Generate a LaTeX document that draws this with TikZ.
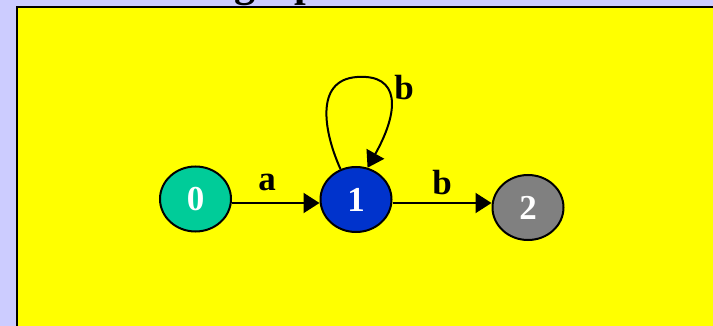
\documentclass[tikz,border=0pt]{standalone}
\usepackage{fontspec}
\setmainfont{Liberation Serif}
\usetikzlibrary{arrows.meta,shapes.geometric}
\definecolor{lav}{RGB}{204,204,255}
\definecolor{yel}{RGB}{255,255,0}
\definecolor{teal0}{RGB}{0,204,153}
\definecolor{blue1}{RGB}{0,51,204}
\definecolor{gray2}{RGB}{128,128,128}
\tikzset{
  state/.style={ellipse, draw=black, line width=2pt, minimum width=71pt, minimum height=65pt,
    inner sep=0pt, text=white, font=\fontsize{35}{35}\selectfont\bfseries},
  edge/.style={draw=black, line width=2pt, -{Triangle[length=16pt,width=20pt]}},
  elabel/.style={font=\fontsize{35}{35}\selectfont\bfseries, text=black, inner sep=0pt},
}
\begin{document}
\begin{tikzpicture}[x=1pt,y=-1pt]
\useasboundingbox (0,0) rectangle (713,326);
\fill[lav] (0,0) rectangle (713,326);
\node[anchor=base west, inner sep=0pt, font=\fontsize{42}{42}\selectfont\bfseries] (title) at (234,-3) {graph};
\draw[fill=yel, line width=2pt] (17,7) rectangle (740,360);
\node[state, fill=teal0] (n0) at (195.5,199) {0};
\node[state, fill=blue1] (n1) at (356,199.5) {1};
\node[state, fill=gray2] (n2) at (528,207.5) {2};
\draw[edge] (n0.east |- 0,203) -- (n1.west |- 0,203);
\draw[edge] (n1.east |- 0,203) -- (n2.west |- 0,203);
\coordinate (top) at (357,77);
\draw[line width=2pt] (n1.117) .. controls (325,135) and (313,80) .. (top);
\draw[edge] (top) .. controls (400,74) and (400,110) .. (n1.70);
\node[elabel] (la) at (267,182) {a};
\node[elabel] (lb) at (442,183) {b};
\node[elabel] (lbl) at (404,88) {b};
\end{tikzpicture}
\end{document}
